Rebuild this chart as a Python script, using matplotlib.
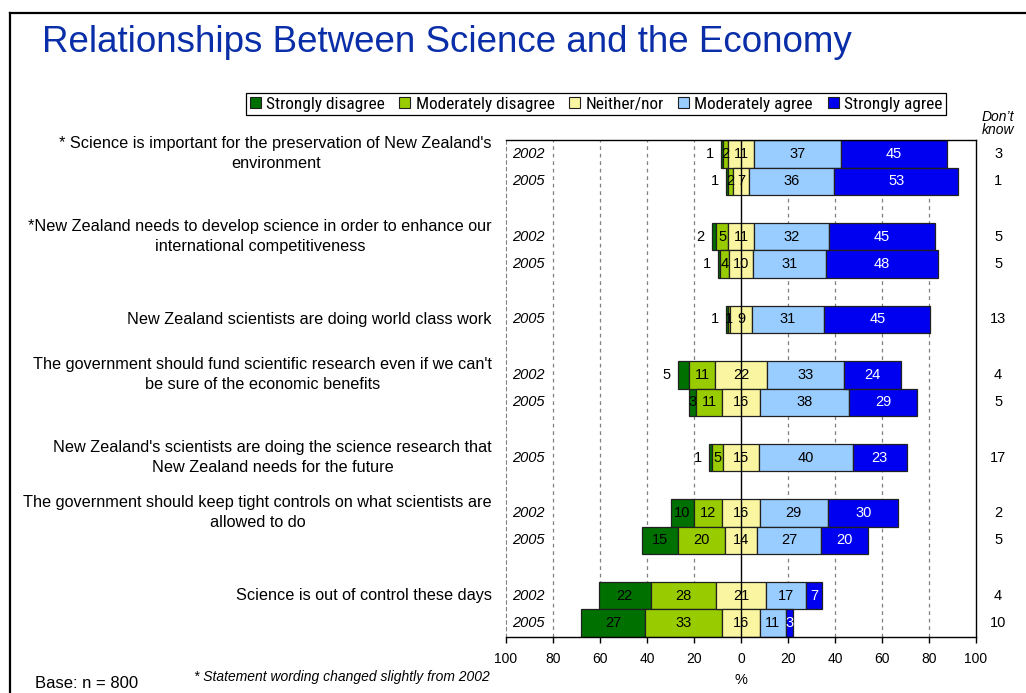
import numpy as np
import matplotlib
matplotlib.use('Agg')
import matplotlib.pyplot as plt
from matplotlib import font_manager
from matplotlib.lines import Line2D
from matplotlib.patches import Patch

plt.rcParams['font.family'] = ['Liberation Sans', 'DejaVu Sans']

# statements (one per group) and the survey years shown for each
statements = [
    "* Science is important for the preservation of New Zealand's\nenvironment",
    "*New Zealand needs to develop science in order to enhance our\ninternational competitiveness",
    "New Zealand scientists are doing world class work",
    "The government should fund scientific research even if we can't\nbe sure of the economic benefits",
    "New Zealand's scientists are doing the science research that\nNew Zealand needs for the future",
    "The government should keep tight controls on what scientists are\nallowed to do",
    "Science is out of control these days",
]
group_years = [
    ["2002", "2005"],
    ["2002", "2005"],
    ["2005"],
    ["2002", "2005"],
    ["2005"],
    ["2002", "2005"],
    ["2002", "2005"],
]

# one value per bar, top to bottom
strongly_disagree = [1, 1, 2, 1, 1, 5, 3, 1, 10, 15, 22, 27]
moderately_disagree = [2, 2, 5, 4, 1, 11, 11, 5, 12, 20, 28, 33]
neither_nor = [11, 7, 11, 10, 9, 22, 16, 15, 16, 14, 21, 16]
moderately_agree = [37, 36, 32, 31, 31, 33, 38, 40, 29, 27, 17, 11]
strongly_agree = [45, 53, 45, 48, 45, 24, 29, 23, 30, 20, 7, 3]
dont_know = [3, 1, 5, 5, 13, 4, 5, 17, 2, 5, 4, 10]

# small "strongly disagree" labels that sit left of the bar
sd_outside = [True, True, True, True, True, True, False, True, False, False, False, False]

series_names = ["Strongly disagree", "Moderately disagree", "Neither/nor",
                "Moderately agree", "Strongly agree"]
colors = ["#007000", "#99CC00", "#FAF5A0", "#99CCFF", "#0000F0"]
text_colors = ["black", "black", "black", "black", "white"]

# narrow font for the legend if one is installed
installed = {f.name for f in font_manager.fontManager.ttflist}
legend_font = None
for name in ['Liberation Sans Narrow', 'Arial Narrow', 'Roboto Condensed',
             'Open Sans Condensed', 'DejaVu Sans Condensed']:
    if name in installed:
        legend_font = name
        break

# bar slots: one unit per bar, one empty unit between groups
ypos = []
label_y = []
years = []
slot = 0
for g, yrs in enumerate(group_years):
    label_y.append(slot + 0.5)
    for yr in yrs:
        ypos.append(slot + 0.5)
        years.append(yr)
        slot += 1
    slot += 1
ypos = np.array(ypos)
total_slots = slot - 1

sd = np.array(strongly_disagree, dtype=float)
md = np.array(moderately_disagree, dtype=float)
nn = np.array(neither_nor, dtype=float)
ma = np.array(moderately_agree, dtype=float)
sa = np.array(strongly_agree, dtype=float)

# left edges: neither/nor centred on zero
left_nn = -nn / 2
left_md = left_nn - md
left_sd = left_md - sd
left_ma = nn / 2
left_sa = left_ma + ma
segments = [(sd, left_sd), (md, left_md), (nn, left_nn), (ma, left_ma), (sa, left_sa)]

fig = plt.figure(figsize=(10.26, 6.93), dpi=100)
ax = fig.add_axes([506/1026, 1-637/693, 470/1026, 497/693])

for xv in [-80, -60, -40, -20, 20, 40, 60, 80]:
    ax.axvline(xv, color='#808080', ls=(0, (3, 3)), lw=0.9, zorder=0)

for i, (vals, lefts) in enumerate(segments):
    ax.barh(ypos, vals, left=lefts, height=1.0, color=colors[i],
            edgecolor='#202020', linewidth=0.9, zorder=2)
    for j in range(len(vals)):
        cx = lefts[j] + vals[j] / 2
        if i == 0 and sd_outside[j]:
            ax.annotate('%d' % vals[j], (lefts[j], ypos[j]), xytext=(-5, 0),
                        textcoords='offset points', ha='right', va='center',
                        fontsize=10.5, color='black', zorder=4)
        else:
            ax.text(cx, ypos[j], '%d' % vals[j], ha='center', va='center',
                    fontsize=10.5, color=text_colors[i], zorder=4)

ax.axvline(0, color='black', lw=1.0, zorder=3)

ax.set_xlim(-100, 100)
ax.set_ylim(total_slots, 0)
ticks = np.arange(-100, 101, 20)
ax.set_xticks(ticks)
ax.set_xticklabels(['%d' % abs(t) for t in ticks], fontsize=10)
ax.tick_params(axis='x', direction='out', length=4, width=1, pad=7)
ax.set_yticks([])
ax.set_xlabel('%', fontsize=10.5, labelpad=5)
ax.spines['left'].set_linestyle((0, (3, 3)))
ax.spines['left'].set_color('#808080')
for s in ['top', 'right', 'bottom']:
    ax.spines[s].set_color('black')
    ax.spines[s].set_linewidth(1.0)

tr = ax.get_yaxis_transform()
for txt, yl in zip(statements, label_y):
    ax.text(-0.03, yl, txt, transform=tr, ha='right', va='center',
            multialignment='center', fontsize=11.7, linespacing=1.4)
for yr, yp in zip(years, ypos):
    ax.text(0.013, yp, yr, transform=tr, ha='left', va='center',
            fontsize=10.5, style='italic')
for dk, yp in zip(dont_know, ypos):
    ax.text(1.047, yp, '%d' % dk, transform=tr, ha='center', va='center',
            fontsize=10.5)
ax.text(1.047, -0.12, "Don\u2019t\nknow", transform=tr, ha='center', va='bottom',
        fontsize=10, style='italic', linespacing=0.85)

# title and slide frame
fig.text(42/1026, 1-42/693, 'Relationships Between Science and the Economy',
         fontsize=26.5, color='#0A2EA8', ha='left', va='center')
fig.add_artist(Line2D([10/1026, 1], [1-13/693, 1-13/693], color='black', lw=1.6))
fig.add_artist(Line2D([10/1026, 10/1026], [0, 1-13/693], color='black', lw=1.6))

if legend_font:
    leg_prop = {'family': [legend_font, 'Liberation Sans'], 'size': 12.4}
    col_sp = 0.85
else:
    leg_prop = {'family': 'Liberation Sans', 'size': 10.5}
    col_sp = 1.0
handles = [Patch(facecolor=c, edgecolor='#202020', linewidth=0.8) for c in colors]
leg = fig.legend(handles, series_names, loc='center', ncol=5,
                 bbox_to_anchor=(596/1026, 1-104/693), prop=leg_prop,
                 fancybox=False, edgecolor='black', framealpha=1,
                 handlelength=0.64, handleheight=0.64, handletextpad=0.3,
                 columnspacing=col_sp, borderpad=0.2, borderaxespad=0)
leg.get_frame().set_linewidth(0.9)

fig.text(35/1026, 1-683/693, 'Base: n = 800', fontsize=12, ha='left', va='center')
fig.text(342/1026, 1-677/693, '* Statement wording changed slightly from 2002',
         fontsize=10, style='italic', ha='center', va='center')

fig.savefig('out.png', dpi=100)
